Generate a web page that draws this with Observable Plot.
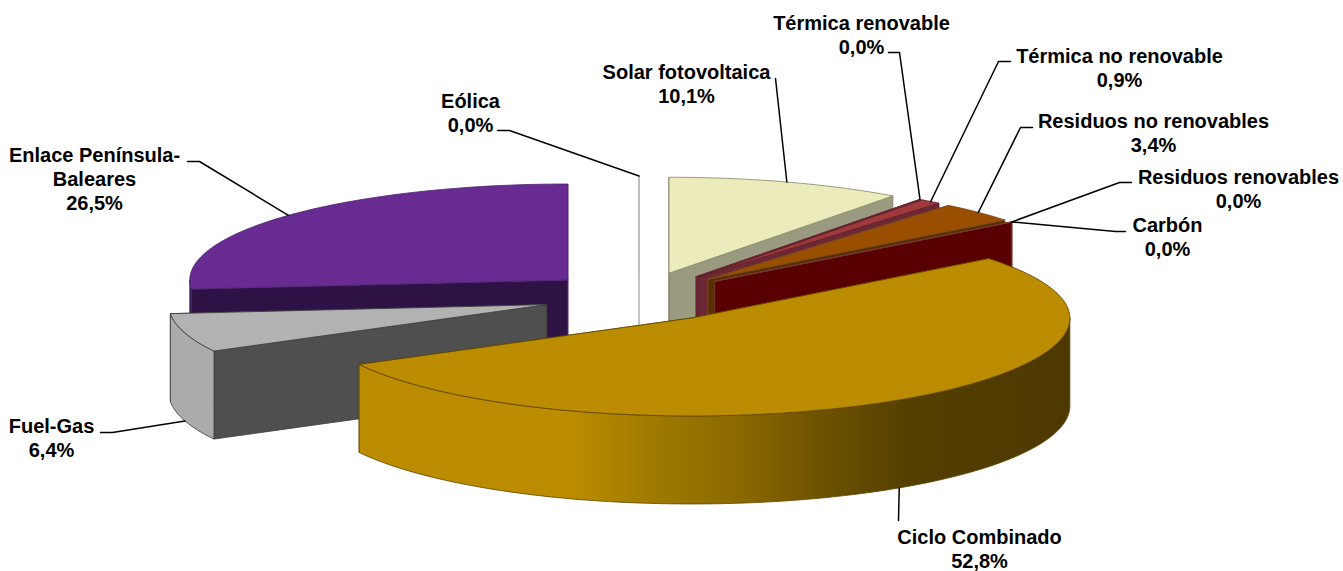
<!DOCTYPE html>
<html>
<head>
<meta charset="utf-8">
<script src="https://cdn.jsdelivr.net/npm/d3@7"></script>
<script src="https://cdn.jsdelivr.net/npm/@observablehq/plot@0.6"></script>
<style>html,body{margin:0;padding:0;background:#fff}svg{display:block}</style>
</head>
<body>
<div id="chart"></div>
<script>
// Data, clockwise from twelve o'clock
const categories = ["Solar fotovoltaica","Térmica renovable","Térmica no renovable","Residuos no renovables","Residuos renovables","Carbón","Ciclo Combinado","Fuel-Gas","Enlace Península-\nBaleares","Eólica"];
const shares = [10.1,0.0,0.9,3.4,0.0,0.0,52.8,6.4,26.5,0.0];
const shareLabels = ["10,1%","0,0%","0,9%","3,4%","0,0%","0,0%","52,8%","6,4%","26,5%","0,0%"];

// Styling per slice
const topColors  = ["#EBEBBB","#A0393B","#A0393B","#9A4E00","#9A4E00","#590000","#BB8C00","#B2B2B2","#672B91","#FFFFFF"];
const wallColors = ["#9A9A80","#6C2935","#6C2935","#553000","#553000","#590000","#BB8C00","#4F4F4F","#2E1245","#FFFFFF"];
const rimColors  = ["#9A9A80","#6C2935","#6C2935","#553000","#553000","#590000","url(#cicloRim)","#ABABAB","#2E1245","#FFFFFF"];
const edgeColors = ["#85856A","#6C2935","#5a2029","#7a4a20","#553000","#7a3a3a","#5E4400","#3c3c3c","#4e2470","#BDBDBD"];
const paintOrder = [8,9,0,1,2,3,4,5,7,6];

// Label placement: text centre, then leader elbow and stub end
const labelX = [686,861,1119,1153,1238,1167,979,51,94,470];
const labelY = [83,34,67,132,188,236,548,437,178,112];
const elbowX = [775,899,998,1020,1119,1115,898,112,199,509];
const elbowY = [78,52,61,127,182,231,520,432,161,130];
const stubX  = [775,888,1010,1032,1131,1125,898,100,187,497];
const stubY  = [78,52,61,127,182,231,520,432,161,130];
const anchorAngle = [0.5,1,0.5,0.5,1,1,0.5,0.5,0.5,1]; // where on the arc the leader lands

// Projection of the pie
const center = {x:638.5, y:296}, rx = 378, ry = 96, ryFront = 98, depth = 88, explode = 0.255, frontDrop = 1;
const total = d3.sum(shares);

let cumulative = 0;
const slices = shares.map((v,i)=>{
  const a0 = cumulative/total*2*Math.PI; cumulative += v;
  const a1 = cumulative/total*2*Math.PI, mid = (a0+a1)/2;
  return {i,a0,a1,mid,
    ax:center.x+explode*rx*Math.sin(mid),
    ay:center.y-explode*ry*Math.cos(mid)+(Math.cos(mid)<0?frontDrop:0)};
});
const rimPt=(s,a,dz=0)=>{const c=Math.cos(a);return {x:s.ax+rx*Math.sin(a), y:s.ay-(c<0?ryFront:ry)*c+dz};};
const arc=(s,a0,a1,dz=0)=>{
  const n=Math.max(1,Math.ceil((a1-a0)/(Math.PI/120)));
  return d3.range(n+1).map(k=>rimPt(s,a0+(a1-a0)*k/n,dz));
};
const polys=[];
const add=(pts,fill,stroke)=>polys.push({pts:[...pts,pts[0]],fill,stroke});
paintOrder.map(i=>slices[i]).forEach(s=>{
  const apex={x:s.ax,y:s.ay}, apexB={x:s.ax,y:s.ay+depth}, e=edgeColors[s.i];
  // radial walls
  add([apex,rimPt(s,s.a1),rimPt(s,s.a1,depth),apexB],wallColors[s.i],e);
  add([apex,rimPt(s,s.a0),rimPt(s,s.a0,depth),apexB],wallColors[s.i],e);
  // outer rim on the front half
  const f0=Math.max(s.a0,Math.PI/2), f1=Math.min(s.a1,3*Math.PI/2);
  if(f1>f0) add([...arc(s,f0,f1),...arc(s,f0,f1,depth).reverse()],rimColors[s.i],e);
  // top face
  add([apex,...arc(s,s.a0,s.a1)],topColors[s.i],e);
});
// Leader lines start on the slice rim
const leaders = slices.map(s=>{
  const a=s.a0+(s.a1-s.a0)*anchorAngle[s.i];
  const front = s.i===6||s.i===7;
  const p=rimPt(s,a,front?depth:0);
  return [p,{x:elbowX[s.i],y:elbowY[s.i]},{x:stubX[s.i],y:stubY[s.i]}];
});
const labels = categories.map((c,i)=>({text:c+"\n"+shareLabels[i],x:labelX[i],y:labelY[i]}));

const gradient = ()=>{
  const defs=d3.create("svg:defs");
  const g=defs.append("linearGradient").attr("id","cicloRim");
  [[0,"#BB8C00"],[.3,"#BB8C00"],[.41,"#A07A00"],[.54,"#8A6800"],[.64,"#705400"],[.77,"#544000"],[1,"#4D3900"]]
    .forEach(([o,c])=>g.append("stop").attr("offset",o).attr("stop-color",c));
  return defs.node();
};

const chart = Plot.plot({
  width:1343,height:571,margin:0,
  x:{domain:[0,1343],range:[0,1343],axis:null},
  y:{domain:[0,571],range:[0,571],axis:null},
  style:{background:"#fff"},
  marks:[
    gradient,
    ...polys.map(p=>Plot.line(p.pts,{x:"x",y:"y",fill:p.fill,stroke:p.stroke,strokeWidth:0.8,strokeLinejoin:"round"})),
    ...leaders.map(l=>Plot.line(l,{x:"x",y:"y",stroke:"#000",strokeWidth:1.5})),
    Plot.text(labels,{x:"x",y:"y",text:"text",fontFamily:"Liberation Sans",fontWeight:"bold",fontSize:20,lineHeight:1.2,fill:"#000",textAnchor:"middle"})
  ]
});
document.getElementById("chart").append(chart);
</script>
</body>
</html>
